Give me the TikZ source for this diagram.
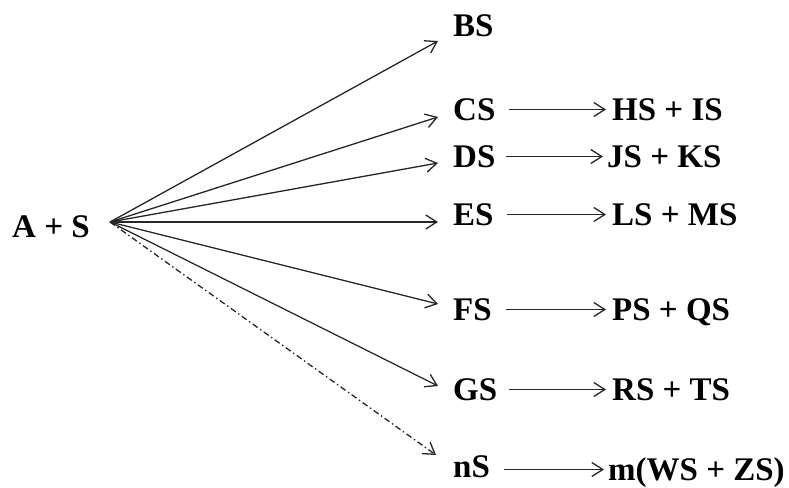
\documentclass[tikz,border=0pt]{standalone}
\usepackage{fontspec}
\setmainfont{Liberation Serif}
\usetikzlibrary{arrows.meta}
\begin{document}
\begin{tikzpicture}[x=1pt,y=-1pt,
  lbl/.style={anchor=base west,inner sep=0pt,text height=21pt,text depth=0pt,
    font=\fontsize{33}{39}\selectfont\bfseries},
  arr/.style={draw=black!85,line width=1.3pt,-{Straight Barb[length=11pt,width=14pt,line width=1.3pt]}},
  dd/.style={dash pattern=on 6pt off 3pt on 1.5pt off 3pt}]
\useasboundingbox (0,0) rectangle (789,487);
% left
\node[lbl] (as) at (12,237) {A + S};
\coordinate (o) at (110,222);
% middle column
\node[lbl] (bs) at (453,37) {BS};
\node[lbl] (cs) at (453,120) {CS};
\node[lbl] (ds) at (453,167) {DS};
\node[lbl] (es) at (453,225) {ES};
\node[lbl] (fs) at (453,320) {FS};
\node[lbl] (gs) at (453,400) {GS};
\node[lbl] (ns) at (453,477) {nS};
% right column
\node[lbl] (hs) at (612,120) {HS + IS};
\node[lbl] (js) at (607,167) {JS + KS};
\node[lbl] (ls) at (612,225) {LS + MS};
\node[lbl] (ps) at (612,320) {PS + QS};
\node[lbl] (rs) at (612,400) {RS + TS};
\node[lbl] (ws) at (608,480) {m(WS + ZS)};
% fan tips
\coordinate (tb) at (438,41);
\coordinate (tc) at (438,117);
\coordinate (td) at (438,163);
\coordinate (te) at (438,222);
\coordinate (tf) at (438,304);
\coordinate (tg) at (438,386);
\coordinate (tn) at (436,455);
\draw[arr] (o) -- (tb);
\draw[arr] (o) -- (tc);
\draw[arr] (o) -- (td);
\draw[arr] (o) -- (te);
\draw[arr] (o) -- (tf);
\draw[arr] (o) -- (tg);
\draw[arr,dd] (o) -- (tn);
% horizontal arrows
\draw[arr] ([xshift=13pt]cs.east) -- ([xshift=-6pt]cs.east -| hs.west);
\draw[arr] ([xshift=10pt]ds.east) -- ([xshift=-4pt]ds.east -| js.west);
\draw[arr] ([xshift=13pt]es.east) -- ([xshift=-6pt]es.east -| ls.west);
\draw[arr] ([xshift=14pt]fs.east) -- ([xshift=-6pt]fs.east -| ps.west);
\draw[arr] ([xshift=12pt]gs.east) -- ([xshift=-6pt]gs.east -| rs.west);
\draw[arr] ([xshift=14pt,yshift=-3pt]ns.east) -- ([xshift=-4pt,yshift=-3pt]ns.east -| ws.west);
\end{tikzpicture}
\end{document}
